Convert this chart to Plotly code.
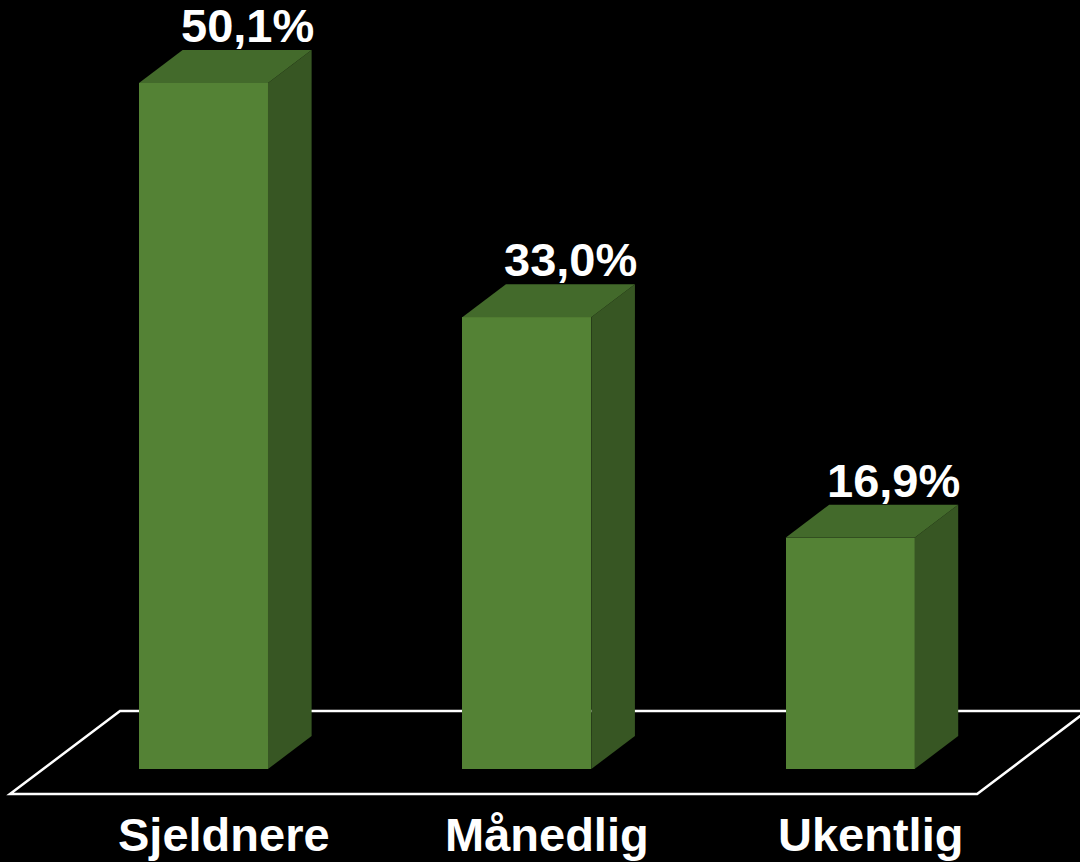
import plotly.graph_objects as go

categories = ["Sjeldnere", "Månedlig", "Ukentlig"]
values = [50.1, 33.0, 16.9]

FRONT = "#548235"
TOP = "#436a2b"
SIDE = "#375623"
BW = 0.399      # bar width (x units)
DX = 0.135      # depth offset x (x units)
DY = 2.41       # depth offset y (value units)
FONT = "Liberation Sans, Arial, sans-serif"

fig = go.Figure()

# floor (drawn below traces)
floor_x = [-0.5985, 2.393, 2.732, -0.2582]
floor_y = [-1.826, -1.826, 4.236, 4.236]
path = "M " + " L ".join(f"{x},{y}" for x, y in zip(floor_x, floor_y)) + " Z"
fig.add_shape(type="path", path=path, xref="x", yref="y", layer="below",
              line=dict(color="white", width=2.5), fillcolor="rgba(0,0,0,0)")

# front faces
fig.add_trace(go.Bar(x=list(range(len(categories))), y=values, width=BW,
                     marker=dict(color=FRONT, line=dict(width=0)),
                     hoverinfo="skip", showlegend=False))

for i, v in enumerate(values):
    l, r = i - BW / 2, i + BW / 2
    # side face
    fig.add_trace(go.Scatter(x=[r, r + DX, r + DX, r, r], y=[0, DY, v + DY, v, 0],
                             fill="toself", fillcolor=SIDE, mode="lines",
                             line=dict(width=0, color=SIDE), hoverinfo="skip",
                             showlegend=False))
    # top face
    fig.add_trace(go.Scatter(x=[l, r, r + DX, l + DX, l], y=[v, v, v + DY, v + DY, v],
                             fill="toself", fillcolor=TOP, mode="lines",
                             line=dict(width=0, color=TOP), hoverinfo="skip",
                             showlegend=False))
    fig.add_annotation(x=i + DX, y=v + DY, yanchor="bottom", xanchor="center",
                       text=f"{v:.1f}%".replace(".", ","), showarrow=False,
                       yshift=-4,
                       font=dict(family=FONT, size=47, color="white", weight="bold"))
    fig.add_annotation(x=i + DX / 2 - 0.005, y=-2.7, yanchor="top", xanchor="center",
                       text=categories[i], showarrow=False,
                       font=dict(family=FONT, size=47, color="white", weight="bold"))

fig.update_layout(
    width=1080, height=862, margin=dict(l=0, r=0, t=0, b=0),
    paper_bgcolor="black", plot_bgcolor="black",
    xaxis=dict(range=[-0.6294, 2.7112], visible=False, fixedrange=True),
    yaxis=dict(range=[-6.79, 56.17], visible=False, fixedrange=True),
    bargap=0, showlegend=False,
)

fig.write_html("out.html", config={"displayModeBar": False},
               post_script="document.body.style.margin='0px';"
                           "document.body.style.background='black';"
                           "document.body.style.overflow='hidden';")
